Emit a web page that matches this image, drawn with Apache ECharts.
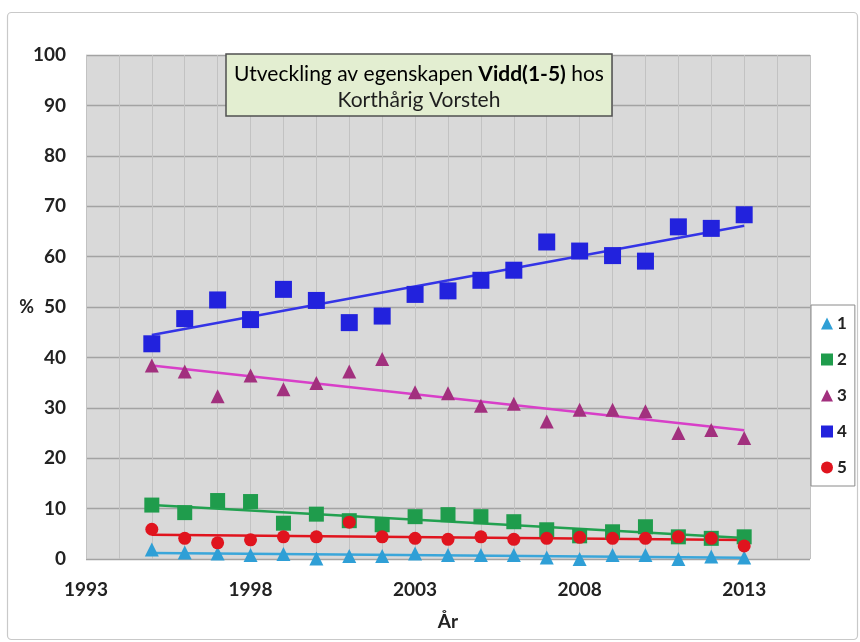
<!DOCTYPE html>
<html>
<head>
<meta charset="utf-8">
<script src="https://cdn.jsdelivr.net/npm/echarts@6/dist/echarts.min.js"></script>
<style>
html,body{margin:0;padding:0;background:#fff;}
#chart{width:860px;height:642px;}
</style>
</head>
<body>
<div id="chart"></div>
<script>
// Data
var years = [1995,1996,1997,1998,1999,2000,2001,2002,2003,2004,2005,2006,2007,2008,2009,2010,2011,2012,2013];
var seriesNames = ['1','2','3','4','5'];
var s1 = [1.9,1.3,1.1,0.8,1.0,0.1,0.6,0.6,1.1,0.8,0.8,0.8,0.3,0.0,0.8,0.8,0.0,0.5,0.3];
var s2 = [10.7,9.2,11.6,11.4,7.1,8.9,7.6,6.8,8.4,8.8,8.4,7.4,5.8,4.6,5.4,6.4,4.4,4.1,4.4];
var s3 = [38.4,37.2,32.3,36.4,33.7,34.9,37.2,39.7,33.1,32.9,30.4,30.8,27.3,29.6,29.6,29.3,25.0,25.6,24.0];
var s4 = [42.7,47.7,51.4,47.5,53.5,51.3,46.9,48.2,52.5,53.2,55.3,57.3,62.9,61.1,60.2,59.1,65.9,65.6,68.3];
var s5 = [5.9,4.1,3.2,3.8,4.4,4.4,7.3,4.4,4.1,3.9,4.4,3.9,4.1,4.3,4.1,4.1,4.4,4.1,2.6];
var titleLine1a = 'Utveckling av egenskapen ';
var titleBold = 'Vidd(1-5)';
var titleLine1b = ' hos';
var titleLine2 = 'Korthårig Vorsteh';

var FONT = 'Lato';
var allData = [s1, s2, s3, s4, s5];
var colors = ['#2f9fd6', '#1f9c4c', '#a2307e', '#2222dd', '#e0141e'];
var trendColors = ['#3aa6da', '#22a150', '#d83fc8', '#3434e6', '#e0141e'];
var symbols = ['triangle', 'rect', 'triangle', 'rect', 'circle'];
var sizes = [14, 15, 14, 17, 13];

function pairs(vals) {
  return years.map(function (y, i) { return [y, vals[i]]; });
}
// Linear least-squares trend line (as in the Excel chart)
function trend(vals) {
  var n = years.length, sx = 0, sy = 0, sxx = 0, sxy = 0;
  for (var i = 0; i < n; i++) {
    sx += years[i]; sy += vals[i]; sxx += years[i] * years[i]; sxy += years[i] * vals[i];
  }
  var b = (n * sxy - sx * sy) / (n * sxx - sx * sx);
  var a = (sy - b * sx) / n;
  var x0 = years[0], x1 = years[n - 1];
  return [[x0, a + b * x0], [x1, a + b * x1]];
}

var series = [];
allData.forEach(function (vals, k) {
  series.push({
    name: seriesNames[k] + ' trend',
    type: 'line',
    data: trend(vals),
    symbol: 'none',
    silent: true,
    z: 2,
    lineStyle: { color: trendColors[k], width: 2.5 }
  });
});
allData.forEach(function (vals, k) {
  series.push({
    name: seriesNames[k],
    type: 'scatter',
    data: pairs(vals),
    symbol: symbols[k],
    symbolSize: sizes[k],
    z: 3,
    itemStyle: { color: colors[k], opacity: 1 }
  });
});

var chart = echarts.init(document.getElementById('chart'), null, { renderer: 'canvas' });
chart.setOption({
  animation: false,
  backgroundColor: '#ffffff',
  textStyle: { fontFamily: FONT },
  grid: {
    left: 86, right: 50, top: 55, bottom: 83,
    show: true, backgroundColor: '#d9d9d9', borderWidth: 0
  },
  xAxis: {
    type: 'value',
    min: 1993, max: 2015, interval: 5,
    name: 'År', nameLocation: 'middle', nameGap: 53,
    nameTextStyle: { fontFamily: FONT, fontSize: 19, fontWeight: 'bold', color: '#222' },
    axisLine: { show: false },
    axisTick: { show: false },
    axisLabel: { fontFamily: FONT, fontSize: 19, fontWeight: 'bold', color: '#222', margin: 21,
      showMaxLabel: false,
      formatter: function (v) { return String(v); } },
    splitLine: { show: true, lineStyle: { color: '#c2c2c2', width: 1 } },
    minorTick: { show: false, splitNumber: 5 },
    minorSplitLine: { show: true, lineStyle: { color: '#c2c2c2', width: 1 } }
  },
  yAxis: {
    type: 'value',
    min: 0, max: 100, interval: 10,
    name: '%', nameLocation: 'middle', nameGap: 52, nameRotate: 0,
    nameMoveOverlap: false,
    nameTextStyle: { fontFamily: FONT, fontSize: 18, fontWeight: 'bold', color: '#222' },
    axisLine: { show: false },
    axisTick: { show: false },
    axisLabel: { fontFamily: FONT, fontSize: 19, fontWeight: 'bold', color: '#222', margin: 20 },
    splitLine: { show: true, lineStyle: { color: '#a3a3a3', width: 1.3 } }
  },
  legend: {
    data: seriesNames.map(function (n, k) { return { name: n, icon: symbols[k] }; }),
    orient: 'vertical',
    left: 811, top: 305,
    padding: [10, 8, 10, 10],
    itemGap: 19,
    itemWidth: 12, itemHeight: 12,
    backgroundColor: '#ffffff',
    borderColor: '#8a8a8a', borderWidth: 1,
    textStyle: { fontFamily: FONT, fontSize: 17, fontWeight: 'bold', color: '#222', padding: [0, 0, 0, -1] }
  },
  graphic: [
    {
      type: 'rect', silent: true, z: -10,
      shape: { x: 7.5, y: 12.5, width: 850, height: 627, r: 4 },
      style: { fill: 'none', stroke: '#c9c9c9', lineWidth: 1.2 }
    },
    {
      type: 'rect', silent: true, z: 100,
      shape: { x: 226, y: 54, width: 386, height: 62 },
      style: { fill: '#e3eed1', stroke: '#505050', lineWidth: 1.5 }
    },
    {
      type: 'text', silent: true, z: 101,
      x: 419, y: 74,
      style: {
        text: '{a|' + titleLine1a + '}{b|' + titleBold + '}{a|' + titleLine1b + '}',
        align: 'center', verticalAlign: 'middle',
        rich: {
          a: { fontFamily: FONT, fontSize: 21, color: '#1e1e1e' },
          b: { fontFamily: FONT, fontSize: 21, fontWeight: 'bold', color: '#1e1e1e' }
        }
      }
    },
    {
      type: 'text', silent: true, z: 101,
      x: 419, y: 100,
      style: {
        text: titleLine2,
        align: 'center', verticalAlign: 'middle',
        fontFamily: FONT, fontSize: 21, fill: '#1e1e1e'
      }
    }
  ],
  series: series
});
</script>
</body>
</html>
